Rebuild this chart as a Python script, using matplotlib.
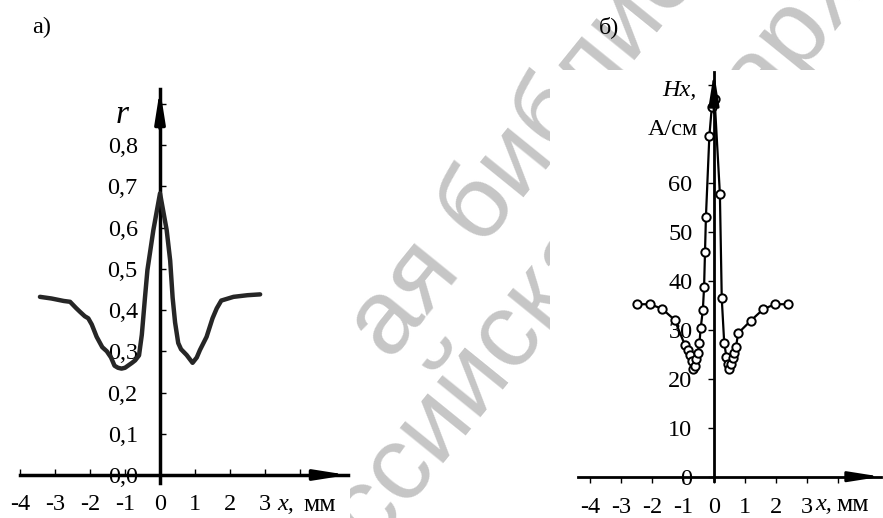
import matplotlib
matplotlib.use("Agg")
import matplotlib.pyplot as plt
from matplotlib.patches import Rectangle

W, H, DPI = 883, 518, 100

# ---- panel а: coefficient r along x ----
r_x = [-3.43, -3.1, -2.75, -2.57, -2.4, -2.29, -2.15, -2.05, -1.95, -1.81,
       -1.65, -1.52, -1.4, -1.3, -1.2, -1.1, -1.0, -0.9, -0.8, -0.71,
       -0.6, -0.52, -0.43, -0.36, -0.19, 0.0, 0.19, 0.29, 0.36, 0.43,
       0.52, 0.6, 0.76, 0.93, 1.05, 1.14, 1.33, 1.5, 1.62, 1.75,
       2.1, 2.5, 2.86]
r_y = [0.432, 0.428, 0.422, 0.420, 0.405, 0.396, 0.385, 0.380, 0.365, 0.335,
       0.310, 0.300, 0.285, 0.265, 0.260, 0.258, 0.260, 0.266, 0.272, 0.278,
       0.290, 0.340, 0.430, 0.497, 0.594, 0.683, 0.594, 0.520, 0.430, 0.370,
       0.320, 0.305, 0.291, 0.272, 0.285, 0.303, 0.335, 0.380, 0.404, 0.423,
       0.432, 0.436, 0.438]
r_ticks = [0.0, 0.1, 0.2, 0.3, 0.4, 0.5, 0.6, 0.7, 0.8, 0.9]
r_tick_labels = ["0,0", "0,1", "0,2", "0,3", "0,4", "0,5", "0,6", "0,7", "0,8", ""]

# ---- panel б: field Hx along x ----
h_x = [-2.47, -2.07, -1.68, -1.27, -0.94, -0.83, -0.77, -0.72, -0.67, -0.62,
       -0.58, -0.53, -0.47, -0.43, -0.36, -0.32, -0.29, -0.26, -0.15, -0.07,
       0.02, 0.19, 0.25, 0.33, 0.40, 0.45, 0.49, 0.55, 0.60, 0.66,
       0.71, 0.78, 1.18, 1.59, 1.97, 2.40]
h_y = [35.2, 35.2, 34.3, 32.0, 26.9, 25.8, 24.8, 23.6, 22.0, 22.6,
       24.0, 25.2, 27.2, 30.3, 34.0, 38.7, 45.9, 53.1, 69.5, 75.5,
       77.0, 57.7, 36.4, 27.2, 24.5, 23.0, 21.9, 23.0, 24.2, 25.3,
       26.5, 29.3, 31.8, 34.2, 35.2, 35.2]
h_ticks = [0, 10, 20, 30, 40, 50, 60, 70, 80]
h_tick_labels = ["0", "10", "20", "30", "40", "50", "60", "", ""]

x_ticks = [-4, -3, -2, -1, 0, 1, 2, 3, 4]
x_tick_labels = ["-4", "-3", "-2", "-1", "0", "1", "2", "3", ""]

SERIF = ["Liberation Serif", "DejaVu Serif"]
plt.rcParams["font.family"] = SERIF

fig = plt.figure(figsize=(W / DPI, H / DPI), dpi=DPI)
fig.patch.set_facecolor("white")


def px_rect(x0, y0, x1, y1):
    """Pixel box (origin top-left) to figure fraction rectangle."""
    return [x0 / W, 1 - y1 / H, (x1 - x0) / W, (y1 - y0) / H]


def px(xp, yp):
    return xp / W, 1 - yp / H


# background library stamp, partly hidden behind the chart panels
WM = dict(color="#c6c6c6", fontsize=76, fontweight="normal",
          family=["Liberation Sans", "DejaVu Sans"], rotation=51,
          rotation_mode="anchor", ha="left", va="baseline", zorder=0.1)
fig.text(*px(390, 362), "ая библио", **WM)
fig.text(*px(292, 640), "Российская", **WM)
fig.text(*px(760, 118), "архив", **WM)

for box in [(0, 0, 350, H), (550, 70, W, H)]:
    fig.patches.append(Rectangle((box[0] / W, 1 - box[3] / H),
                                 (box[2] - box[0]) / W, (box[3] - box[1]) / H,
                                 transform=fig.transFigure, facecolor="white",
                                 edgecolor="none", zorder=0.2))


def setup_axes(ax, lw, tick_dir, ylab_pad, xlab_pad, tick_len):
    ax.set_facecolor("none")
    ax.set_zorder(1)
    for s in ("top", "right"):
        ax.spines[s].set_visible(False)
    ax.spines["left"].set_position(("data", 0))
    ax.spines["bottom"].set_position(("data", 0))
    ax.spines["left"].set_linewidth(lw)
    ax.spines["bottom"].set_linewidth(lw)
    ax.tick_params(axis="both", direction=tick_dir, length=tick_len, width=1.0,
                   labelsize=17.5, color="k")
    ax.tick_params(axis="y", pad=ylab_pad)
    ax.tick_params(axis="x", pad=xlab_pad)
    xl = ax.get_xlim()
    yl = ax.get_ylim()
    hl = dict(arrowstyle="-|>,head_length=1.9,head_width=0.3", color="k",
              lw=lw, mutation_scale=10, shrinkA=0, shrinkB=0)
    ax.annotate("", xy=(xl[1], 0), xytext=(xl[1] - 0.1 * (xl[1] - xl[0]), 0),
                arrowprops=hl, annotation_clip=False)
    ax.annotate("", xy=(0, yl[1]), xytext=(0, yl[1] - 0.1 * (yl[1] - yl[0])),
                arrowprops=hl, annotation_clip=False)


# ---- panel а ----
ax1 = fig.add_axes(px_rect(20, 89, 348, 483.25))
ax1.set_xlim(-4.0, 5.37)
ax1.set_ylim(-0.02, 0.936)
ax1.plot(r_x, r_y, color="#262626", lw=3.2, solid_joinstyle="round",
         solid_capstyle="round", zorder=3)
ax1.set_xticks(x_ticks, x_tick_labels)
ax1.set_yticks(r_ticks, r_tick_labels)
setup_axes(ax1, lw=2.5, tick_dir="in", ylab_pad=16, xlab_pad=14, tick_len=4.5)
ax1.text(-1.09, 0.873, "r", style="italic", fontsize=24, ha="center",
         va="center")

fig.text(*px(42, 27), "а)", fontsize=17.5, ha="center", va="center")
fig.text(*px(277, 505), "x,", fontsize=17.5, style="italic", ha="left",
         va="center")
fig.text(*px(303, 505), "мм", fontsize=18.5, ha="left", va="center")

# ---- panel б ----
ax2 = fig.add_axes(px_rect(578, 72, 881, 481))
ax2.set_xlim(-4.387, 5.387)
ax2.set_ylim(-0.88, 82.6)
ax2.plot(h_x, h_y, color="k", lw=1.6, marker="o", markersize=6,
         markerfacecolor="white", markeredgecolor="k", markeredgewidth=1.4,
         zorder=3)
ax2.set_xticks(x_ticks, x_tick_labels)
ax2.set_yticks(h_ticks, h_tick_labels)
setup_axes(ax2, lw=2.0, tick_dir="out", ylab_pad=11, xlab_pad=10, tick_len=4.5)

fig.text(*px(609, 27), "б)", fontsize=17.5, ha="center", va="center")
fig.text(*px(697, 91), "Hx,", fontsize=17.5, style="italic", ha="right",
         va="center")
fig.text(*px(698, 130), "А/см", fontsize=17.5, ha="right", va="center")
fig.text(*px(815, 505), "x,", fontsize=17.5, style="italic", ha="left",
         va="center")
fig.text(*px(836, 505), "мм", fontsize=18.5, ha="left", va="center")

fig.savefig("out.png", dpi=DPI)
